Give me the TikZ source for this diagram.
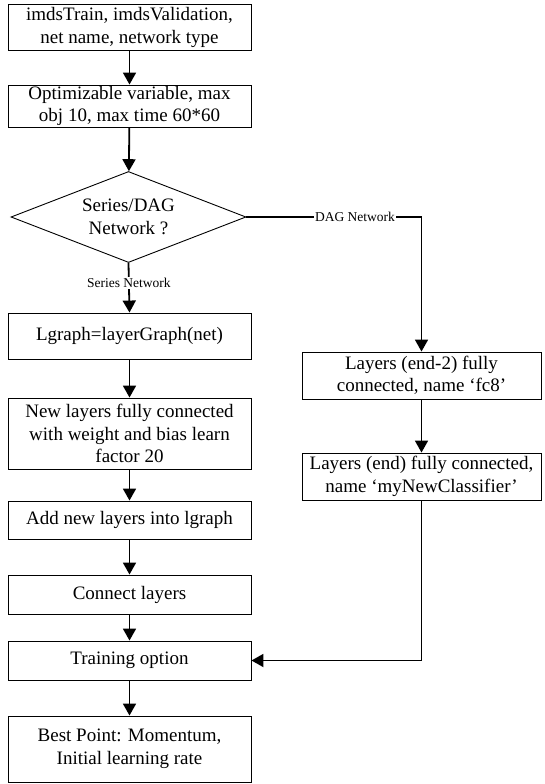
\documentclass[tikz,border=0pt]{standalone}
\usepackage{fontspec}
\setmainfont{Liberation Serif}
\usetikzlibrary{arrows.meta,shapes.geometric}
\begin{document}
\begin{tikzpicture}[x=1pt,y=-1pt,
  box/.style={draw,line width=0.9pt,minimum width=243pt,inner sep=0pt,align=center,
    font=\fontsize{19}{22.5}\selectfont},
  sidebox/.style={box,minimum width=239pt},
  flow/.style={line width=1.8pt,-{Triangle[width=13pt,length=12pt]}},
  tag/.style={fill=white,inner sep=1pt,font=\fontsize{13.5}{15}\selectfont}]
\useasboundingbox (0,0) rectangle (544,784);

% main column
\node[box,minimum height=46pt] (b1) at (129.5,27.5) {imdsTrain, imdsValidation,\\net name, network type};
\node[box,minimum height=42pt] (b2) at (129.5,106) {Optimizable variable, max\\obj 10, max time 60*60};
\node[draw,diamond,aspect=2.52,minimum width=235pt,minimum height=91pt,inner sep=0pt,line width=0.9pt,
  align=center,font=\fontsize{19}{22.5}\selectfont] (d) at (128.5,217) {Series/DAG\\Network ?};
\node[box,minimum height=46pt] (b3) at (129.5,336) {Lgraph=layerGraph(net)};
\node[box,minimum height=71pt] (b4) at (129.5,433.5) {New layers fully connected\\with weight and bias learn\\factor 20};
\node[box,minimum height=38pt] (b5) at (129.5,520) {Add new layers into lgraph};
\node[box,minimum height=39pt] (b6) at (129.5,594.5) {Connect layers};
\node[box,minimum height=39pt] (b7) at (129.5,660.5) {Training option};
\node[box,minimum height=66pt] (b8) at (129.5,749) {Best Point: Momentum,\\Initial learning rate};

% DAG branch
\node[sidebox,minimum height=47pt] (r1) at (421.5,375.5) {Layers (end-2) fully\\connected, name ‘fc8’};
\node[sidebox,minimum height=47pt] (r2) at (421.5,476.5) {Layers (end) fully connected,\\name ‘myNewClassifier’};
\coordinate (dagturn) at (421.5,217);

% connectors
\draw[flow] (b1) -- (b2);
\draw[flow] (b2) -- (d);
\draw[flow] (d.south) -- node[tag,pos=0.4]{Series Network} (b3.north);
\draw[flow] (b3) -- (b4);
\draw[flow] (b4) -- (b5);
\draw[flow] (b5) -- (b6);
\draw[flow] (b6) -- (b7);
\draw[flow] (b7) -- (b8);
\draw[flow] (d.east) -- node[tag,pos=0.62]{DAG Network} (dagturn) -- (r1.north);
\draw[flow] (r1) -- (r2);
\draw[flow] (r2.south) |- (b7.east);
\end{tikzpicture}
\end{document}
